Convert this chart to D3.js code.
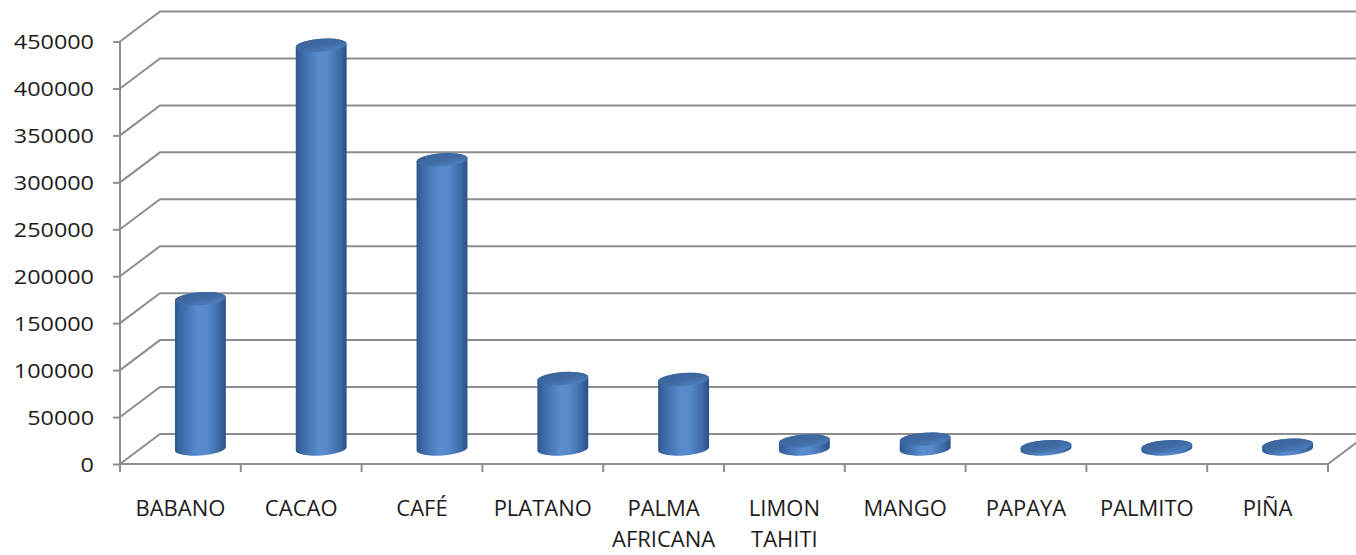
<!DOCTYPE html>
<html>
<head>
<meta charset="utf-8">
<script src="https://cdn.jsdelivr.net/npm/d3@7"></script>
<style>
  html, body { margin: 0; padding: 0; background: #ffffff; }
  svg { display: block; }
  text { font-family: "Open Sans", "DejaVu Sans", sans-serif; fill: #1c1c1c; }
</style>
</head>
<body>
<svg id="chart" width="1356" height="555"></svg>
<script>
// Producción por cultivo
const categories = ["BABANO", "CACAO", "CAFÉ", "PLATANO", "PALMA AFRICANA",
                    "LIMON TAHITI", "MANGO", "PAPAYA", "PALMITO", "PIÑA"];
const values = [160000, 430000, 308000, 75000, 74000, 8500, 10500, 2500, 2500, 4000];
const yTicks = [0, 50000, 100000, 150000, 200000, 250000, 300000, 350000, 400000, 450000];

const svg = d3.select("#chart");

// Plot frame (front plane) and 3D depth offset
const plotLeft = 120, plotRight = 1328, plotBottom = 464, plotTop = 41.5;
const depthX = 40, depthY = -30;

const x = d3.scaleBand().domain(categories).range([plotLeft, plotRight]).paddingInner(0).paddingOuter(0);
const y = d3.scaleLinear().domain([0, 450000]).range([plotBottom, plotTop]);

const gridColor = "#8e8e8e";

// Gradients for the cylinders
const defs = svg.append("defs");
const bodyGrad = defs.append("linearGradient").attr("id", "bodyGrad")
  .attr("x1", 0).attr("x2", 1).attr("y1", 0).attr("y2", 0);
[[0, "#2d568c"], [0.1, "#3a67a3"], [0.45, "#598dcf"], [0.62, "#5789cb"],
 [0.86, "#3e6ba8"], [1, "#2b5185"]].forEach(([o, c]) =>
  bodyGrad.append("stop").attr("offset", o).attr("stop-color", c));
const topGrad = defs.append("linearGradient").attr("id", "topGrad")
  .attr("x1", 0).attr("x2", 0.6).attr("y1", 0).attr("y2", 1);
[[0, "#3a6399"], [0.6, "#3f6aa3"], [1, "#4b7cbb"]].forEach(([o, c]) =>
  topGrad.append("stop").attr("offset", o).attr("stop-color", c));

// Walls: gridlines on the left side wall and back wall
const grid = svg.append("g").attr("fill", "none").attr("stroke", gridColor).attr("stroke-width", 2);
yTicks.forEach(t => {
  const yy = y(t);
  grid.append("path")
    .attr("d", `M${plotLeft},${yy} L${plotLeft + depthX},${yy + depthY} L${plotRight + depthX},${yy + depthY}`);
});
// Floor right edge
grid.append("line")
  .attr("x1", plotRight).attr("y1", plotBottom)
  .attr("x2", plotRight + depthX).attr("y2", plotBottom + depthY);

// Y axis (front)
const yAxis = d3.axisLeft(y).tickValues(yTicks).tickSize(7).tickFormat(d3.format("d"));
const gy = svg.append("g").attr("transform", `translate(${plotLeft},0)`).call(yAxis);
gy.select(".domain").attr("stroke", gridColor).attr("stroke-width", 2)
  .attr("d", `M0,${plotTop}V${plotBottom}`);
gy.selectAll(".tick line").attr("stroke", gridColor).attr("stroke-width", 2);
gy.selectAll(".tick text")
  .attr("x", null).attr("dy", null)
  .attr("text-anchor", "end")
  .attr("font-size", 19.5)
  .attr("font-family", "Open Sans")
  .attr("transform", "translate(-26,7) scale(1.2,1)")
  .attr("fill", "#1c1c1c");

// X axis (front floor edge)
const xAxis = d3.axisBottom(x).tickSize(0).tickFormat("");
const gx = svg.append("g").attr("transform", `translate(0,${plotBottom})`).call(xAxis);
gx.select(".domain").attr("stroke", gridColor).attr("stroke-width", 2)
  .attr("d", `M${plotLeft},0H${plotRight}`);
gx.selectAll(".tick").remove();
const boundaries = categories.map(c => x(c)).concat([plotRight]);
gx.selectAll(".bound").data(boundaries).join("line").attr("class", "bound")
  .attr("x1", d => d).attr("x2", d => d).attr("y1", 0).attr("y2", 8)
  .attr("stroke", gridColor).attr("stroke-width", 2);

// Category labels (wrapped on spaces)
const labels = svg.append("g");
categories.forEach(c => {
  const words = c.split(" ");
  const t = labels.append("text")
    .attr("text-anchor", "middle")
    .attr("font-size", 22)
    .attr("transform", `translate(${x(c) + x.bandwidth() / 2},516)`);
  words.forEach((w, i) => t.append("tspan").attr("x", 0).attr("y", i * 31).text(w));
});

// Cylinders, placed at mid depth
const rx = 25.5, ry = 6.5, rot = -4;
const th = rot * Math.PI / 180;
const ax = rx * Math.cos(th), ay = rx * Math.sin(th);
const bars = svg.append("g");
categories.forEach((c, i) => {
  const cx = x(c) + x.bandwidth() / 2 + depthX / 2;
  const yb = y(0) + depthY / 2;
  const yt = y(values[i]) + depthY / 2;
  const body = `M${cx - ax},${yt - ay} L${cx - ax},${yb - ay} ` +
    `A${rx},${ry} ${rot} 0 0 ${cx + ax},${yb + ay} ` +
    `L${cx + ax},${yt + ay} A${rx},${ry} ${rot} 0 0 ${cx - ax},${yt - ay} Z`;
  bars.append("path").attr("d", body).attr("fill", "url(#bodyGrad)");
  bars.append("ellipse")
    .attr("cx", 0).attr("cy", 0).attr("rx", rx).attr("ry", ry)
    .attr("transform", `translate(${cx},${yt}) rotate(${rot})`)
    .attr("fill", "url(#topGrad)");
});
</script>
</body>
</html>
